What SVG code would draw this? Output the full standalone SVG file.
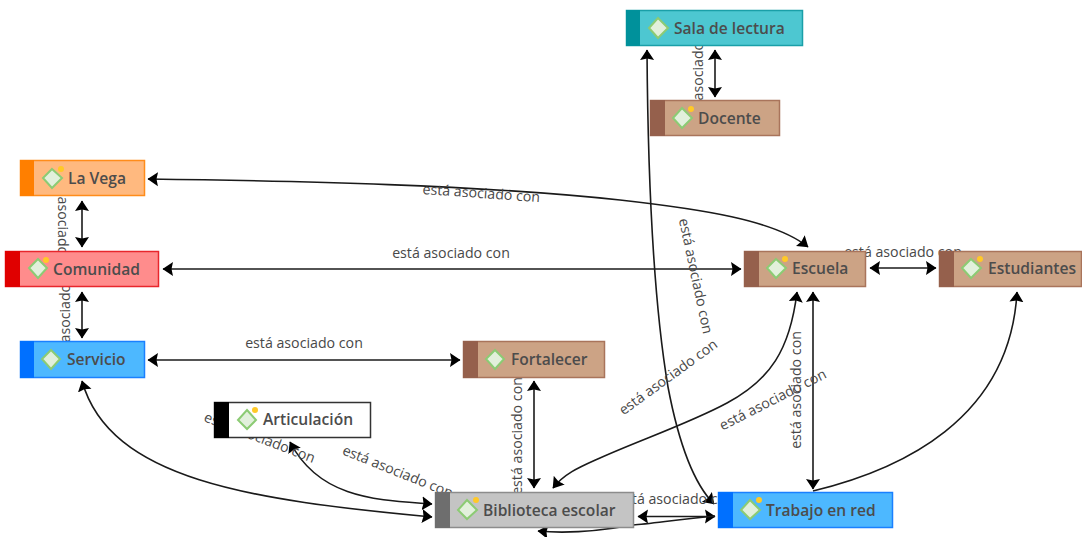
<svg xmlns="http://www.w3.org/2000/svg" width="1082" height="537" viewBox="0 0 1082 537">
<style>
text{font-family:"Open Sans","Noto Sans","Liberation Sans",sans-serif}
.c{fill:none;stroke:#1a1a1a;stroke-width:1.6;marker-start:url(#a);marker-end:url(#a)}
.n{marker-start:none}
.l{font-size:14.2px;fill:#484848;text-anchor:middle}
.t{font-size:15.6px;font-weight:600;fill:#4c4c4c}
.d{fill:#e2f0dc;stroke:#8ccb74;stroke-width:2}
.y{fill:#ffc928}
.br{fill:#cca385;stroke:#a9745b;stroke-width:1.5}
.bs{fill:#95604c}
.or{fill:#ffb97f;stroke:#ff8c1a;stroke-width:1.5}
.bl{fill:#4db8ff;stroke:#1a80ff;stroke-width:1.5}
</style>
<defs>
<marker id="a" markerUnits="userSpaceOnUse" markerWidth="15" markerHeight="15" refX="10" refY="7" orient="auto-start-reverse" viewBox="0 0 15 14"><path d="M0,0 L10.5,7 L0,14 L1.5,7 Z" fill="#000"/></marker>
</defs>
<g id="connectors">
<path class="c" d="M148,179 C300,181 480,185 620,200 C700,209 775,220 808,247"/>
<path class="c" d="M163,269 H741"/>
<path class="c" d="M148,360 H460"/>
<path class="c" d="M82,201 V247"/>
<path class="c" d="M82,292 V338"/>
<path class="c" d="M715,50 V97"/>
<path class="c" d="M870,268 H936"/>
<path class="c" d="M534,381 V488"/>
<path class="c" d="M813,292 V489"/>
<path class="c" d="M797,292 C790,350 770,380 727,403 C690,423 640,440 600,458 C580,467 565,473 553,488"/>
<path class="c" d="M714,504 C695,485 680,450 668,387 C655,310 648,200 647,50"/>
<path class="c n" d="M813,491 C900,470 1010,420 1017,292"/>
<path class="c" d="M82,381 C110,480 250,500 432,517"/>
<path class="c" d="M290,442 C320,500 380,500 432,504"/>
<path class="c" d="M638,516.5 H715"/>
<path class="c n" d="M715,516 C680,519 650,524 633,525 C600,531 570,534 538,531"/>
<g id="labels">
<text class="l" x="451" y="258">está asociado con</text>
<text class="l" x="304" y="348">está asociado con</text>
<text class="l" transform="translate(481,198) rotate(4)">está asociado con</text>
<text class="l" transform="translate(58,224) rotate(90)">está asociado con</text>
<text class="l" transform="translate(70,315) rotate(-90)">está asociado con</text>
<text class="l" transform="translate(703,73) rotate(-90)">está asociado con</text>
<text class="l" transform="translate(522,436) rotate(-90)">está asociado con</text>
<text class="l" transform="translate(801,390) rotate(-90)">está asociado con</text>
<text class="l" transform="translate(671,381) rotate(-36)">está asociado con</text>
<text class="l" transform="translate(775,404) rotate(-27)">está asociado con</text>
<text class="l" transform="translate(691,277) rotate(78)">está asociado con</text>
<text class="l" transform="translate(258,442) rotate(21)">está asociado con</text>
<text class="l" transform="translate(396,476) rotate(22)">está asociado con</text>
<text class="l" x="676" y="504">está asociado con</text>
<text class="l" x="903" y="257">está asociado con</text>
</g>
</g>
<g id="sala"><rect x="626.5" y="10.5" width="176" height="35" fill="#4dc7d1" stroke="#1a9fa8" stroke-width="1.5"/><rect x="626" y="10" width="14" height="36" fill="#00919b"/><path class="d" d="M658,18 L668,28 L658,38 L649,28Z"/><text class="t" x="674" y="33.5">Sala de lectura</text></g>
<g id="docente"><rect class="br" x="650.5" y="100.5" width="129" height="35"/><rect class="bs" x="650" y="100" width="15" height="36"/><path class="d" d="M682,108 L692,118 L682,128 L673,118Z"/><circle class="y" cx="691" cy="109" r="3"/><text class="t" x="698" y="123.5">Docente</text></g>
<g id="lavega"><rect class="or" x="20.5" y="160.5" width="124" height="35"/><rect x="20" y="160" width="14" height="36" fill="#ff7f00"/><path class="d" d="M52,169 L62,178 L52,188 L43,178Z"/><circle class="y" cx="61" cy="169" r="3"/><text class="t" x="68" y="183.5">La Vega</text></g>
<g id="comunidad"><rect x="5.5" y="251.5" width="153" height="35" fill="#ff8c8c" stroke="#e8262c" stroke-width="1.5"/><rect x="5" y="251" width="15" height="36" fill="#e00000"/><path class="d" d="M38,259 L47,268 L38,278 L29,268Z"/><circle class="y" cx="46" cy="260" r="3"/><text class="t" x="53" y="274.5">Comunidad</text></g>
<g id="servicio"><rect class="bl" x="20.5" y="341.5" width="124" height="36"/><rect x="20" y="341" width="14" height="37" fill="#0070ff"/><path class="d" d="M51,350 L60,359 L51,369 L42,359Z"/><text class="t" x="67" y="364.5">Servicio</text></g>
<g id="fortalecer"><rect class="br" x="463.5" y="341.5" width="141" height="36"/><rect class="bs" x="463" y="341" width="15" height="37"/><path class="d" d="M495,350 L504,359 L495,369 L486,359Z"/><text class="t" x="511" y="364.5">Fortalecer</text></g>
<g id="articulacion"><rect x="214.5" y="402.5" width="156" height="35" fill="#fff" stroke="#333" stroke-width="1.5"/><rect x="214" y="402" width="15" height="36" fill="#000"/><path class="d" d="M247,410 L256,420 L247,429 L238,420Z"/><circle class="y" cx="255" cy="410" r="3"/><text class="t" x="263" y="425">Articulación</text></g>
<g id="biblioteca"><rect x="435.5" y="492.5" width="198" height="35" fill="#c4c4c4" stroke="#8c8c8c" stroke-width="1.5"/><rect x="435" y="492" width="15" height="36" fill="#6e6e6e"/><path class="d" d="M467,500 L477,510 L467,519 L458,510Z"/><circle class="y" cx="476" cy="500" r="3"/><text class="t" x="483" y="515.5">Biblioteca escolar</text></g>
<g id="trabajo"><rect class="bl" x="718.5" y="492.5" width="174" height="35"/><rect x="718" y="492" width="15" height="36" fill="#0070ff"/><path class="d" d="M750,500 L760,510 L750,519 L741,510Z"/><circle class="y" cx="759" cy="500" r="3"/><text class="t" x="766" y="515.5">Trabajo en red</text></g>
<g id="escuela"><rect class="br" x="744.5" y="251.5" width="121" height="35"/><rect class="bs" x="744" y="251" width="15" height="36"/><path class="d" d="M776,259 L786,268 L776,278 L767,268Z"/><circle class="y" cx="785" cy="259" r="3"/><text class="t" x="792" y="273.5">Escuela</text></g>
<g id="estudiantes"><rect class="br" x="939.5" y="251.5" width="142" height="35"/><rect class="bs" x="939" y="251" width="15" height="36"/><path class="d" d="M971,259 L981,268 L971,278 L962,268Z"/><circle class="y" cx="980" cy="259" r="3"/><text class="t" x="988" y="273.5">Estudiantes</text></g>
</svg>
